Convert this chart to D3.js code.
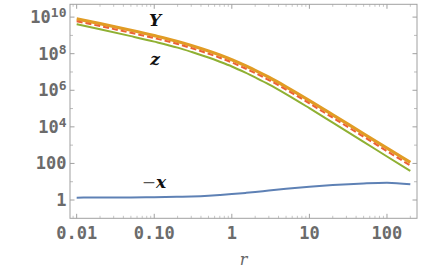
<!DOCTYPE html>
<html>
<head>
<meta charset="utf-8">
<script src="https://cdn.jsdelivr.net/npm/d3@7"></script>
<style>
  body { margin: 0; background: #fff; }
  svg { display: block; }
</style>
</head>
<body>
<svg width="422" height="273"></svg>
<script>
const width = 422, height = 273;
const margin = {left: 70, top: 4.3, right: 5, bottom: 54.7};

// data
const rValues = [0.01, 0.02, 0.05, 0.1, 0.2, 0.3, 0.5, 0.7, 1, 1.5, 2, 3, 5, 10, 20, 50, 100, 200];
const yValues = [7.94e9, 4.37e9, 1.91e9, 9.77e8, 4.68e8, 2.82e8, 1.41e8, 8.51e7, 4.68e7, 2.19e7, 1.23e7, 5.13e6, 1.55e6, 2.75e5, 4.57e4, 4.17e3, 692, 115];
const dashValues = [5.89e9, 3.24e9, 1.38e9, 7.08e8, 3.39e8, 2.04e8, 1.0e8, 6.03e7, 3.31e7, 1.55e7, 8.71e6, 3.63e6, 1.10e6, 1.91e5, 3.16e4, 2.88e3, 468, 77.6];
const zValues = [4.07e9, 2.19e9, 9.12e8, 4.57e8, 2.14e8, 1.26e8, 6.17e7, 3.63e7, 2.0e7, 9.12e6, 5.01e6, 2.09e6, 6.17e5, 1.05e5, 1.70e4, 1.51e3, 240, 38.9];
const negXValues = [1.35, 1.36, 1.38, 1.42, 1.5, 1.57, 1.72, 1.88, 2.1, 2.45, 2.75, 3.3, 4.1, 5.3, 6.6, 8.1, 8.8, 7.2];

const xTicks = [0.01, 0.1, 1, 10, 100];
const xTickLabels = ["0.01", "0.10", "1", "10", "100"];
const yTicks = [1, 1e2, 1e4, 1e6, 1e8, 1e10];
const yTickExp = [0, 2, 4, 6, 8, 10];

const svg = d3.select("svg");

const x = d3.scaleLog()
    .domain([Math.pow(10, -2.086), Math.pow(10, 2.387)])
    .range([margin.left, width - margin.right]);

const y = d3.scaleLog()
    .domain([0.1, Math.pow(10, 10.7)])
    .range([height - margin.bottom, margin.top]);

const x0 = margin.left, x1 = width - margin.right;
const y0 = height - margin.bottom, y1 = margin.top;

// minor ticks
let xMinor = [];
for (let e = -3; e <= 2; e++)
    for (let k = 2; k <= 9; k++) {
        let v = k * Math.pow(10, e);
        if (v > x.domain()[0] && v < x.domain()[1]) xMinor.push(v);
    }
let yMinor = d3.range(1, 11, 2).map(e => Math.pow(10, e));

const tickColor = "#a0a0a0";
const g = svg.append("g");

// x ticks bottom & top
g.append("g").selectAll("line").data(xTicks).join("line")
    .attr("x1", d => x(d)).attr("x2", d => x(d))
    .attr("y1", y0).attr("y2", y0 - 4.5)
    .attr("stroke", tickColor);
g.append("g").selectAll("line").data(xTicks).join("line")
    .attr("x1", d => x(d)).attr("x2", d => x(d))
    .attr("y1", y1).attr("y2", y1 + 4.5)
    .attr("stroke", tickColor);
g.append("g").selectAll("line").data(xMinor).join("line")
    .attr("x1", d => x(d)).attr("x2", d => x(d))
    .attr("y1", y0).attr("y2", y0 - 2.5)
    .attr("stroke", tickColor).attr("stroke-width", 0.6);
g.append("g").selectAll("line").data(xMinor).join("line")
    .attr("x1", d => x(d)).attr("x2", d => x(d))
    .attr("y1", y1).attr("y2", y1 + 2.5)
    .attr("stroke", tickColor).attr("stroke-width", 0.6);

// y ticks left & right
g.append("g").selectAll("line").data(yTicks).join("line")
    .attr("x1", x0).attr("x2", x0 + 4.5)
    .attr("y1", d => y(d)).attr("y2", d => y(d))
    .attr("stroke", tickColor);
g.append("g").selectAll("line").data(yTicks).join("line")
    .attr("x1", x1).attr("x2", x1 - 4.5)
    .attr("y1", d => y(d)).attr("y2", d => y(d))
    .attr("stroke", tickColor);
g.append("g").selectAll("line").data(yMinor).join("line")
    .attr("x1", x0).attr("x2", x0 + 3)
    .attr("y1", d => y(d)).attr("y2", d => y(d))
    .attr("stroke", tickColor).attr("stroke-width", 0.7);
g.append("g").selectAll("line").data(yMinor).join("line")
    .attr("x1", x1).attr("x2", x1 - 3)
    .attr("y1", d => y(d)).attr("y2", d => y(d))
    .attr("stroke", tickColor).attr("stroke-width", 0.7);

// frame
g.append("rect")
    .attr("x", x0).attr("y", y1)
    .attr("width", x1 - x0).attr("height", y0 - y1)
    .attr("fill", "none")
    .attr("stroke", tickColor)
    .attr("stroke-width", 1);

// tick labels
const labelFont = "'DejaVu Sans Mono', monospace";
g.append("g").selectAll("text").data(xTicks).join("text")
    .attr("x", d => x(d))
    .attr("y", y0 + 20.7)
    .attr("text-anchor", "middle")
    .style("font-family", labelFont)
    .style("font-size", "17px")
    .style("font-weight", "bold")
    .attr("fill", "#6b6b6b")
    .text((d, i) => xTickLabels[i]);

const yLab = g.append("g").selectAll("text").data(yTicks).join("text")
    .attr("x", x0 - 3.5)
    .attr("y", d => y(d) + 6)
    .attr("text-anchor", "end")
    .style("font-family", labelFont)
    .style("font-size", "17px")
    .style("font-weight", "bold")
    .attr("fill", "#6b6b6b");
yLab.each(function(d, i) {
    const t = d3.select(this);
    const e = yTickExp[i];
    if (e <= 2) {
        t.text(String(d));
    } else {
        t.append("tspan").text("10");
        t.append("tspan").attr("dy", -6).style("font-size", "13px").text(String(e));
    }
});

// curves
const line = vals => d3.line()
    .x((d, i) => x(rValues[i]))
    .y(d => y(d))
    .curve(d3.curveMonotoneX)(vals);

g.append("path").attr("d", line(negXValues))
    .attr("fill", "none").attr("stroke", "#5E81B5").attr("stroke-width", 2);
g.append("path").attr("d", line(yValues))
    .attr("fill", "none").attr("stroke", "#E19C24").attr("stroke-width", 3.2);
g.append("path").attr("d", line(zValues))
    .attr("fill", "none").attr("stroke", "#8FB032").attr("stroke-width", 2);
g.append("path").attr("d", line(dashValues))
    .attr("fill", "none").attr("stroke", "#EB6235").attr("stroke-width", 2)
    .attr("stroke-dasharray", "6,3");

// curve labels
const curveFont = "'DejaVu Serif', serif";
g.append("text").attr("x", 155).attr("y", 26)
    .attr("text-anchor", "middle")
    .style("font-family", curveFont).style("font-size", "17px")
    .style("font-weight", "bold").style("font-style", "italic")
    .attr("fill", "#111").text("Y");
g.append("text").attr("x", 155).attr("y", 65)
    .attr("text-anchor", "middle")
    .style("font-family", curveFont).style("font-size", "17px")
    .style("font-weight", "bold").style("font-style", "italic")
    .attr("fill", "#111").text("z");
const nx = g.append("text").attr("x", 154).attr("y", 188)
    .attr("text-anchor", "middle")
    .style("font-family", curveFont).style("font-size", "17px")
    .style("font-style", "italic")
    .attr("fill", "#111");
nx.append("tspan").style("font-weight", "normal").attr("fill", "#555").text("\u2212");
nx.append("tspan").style("font-weight", "bold").text("x");

// axis label
g.append("text")
    .attr("x", (x0 + x1) / 2)
    .attr("y", 265)
    .attr("text-anchor", "middle")
    .style("font-family", curveFont)
    .style("font-size", "16px")
    .style("font-style", "italic")
    .attr("fill", "#666")
    .text("r");
</script>
</body>
</html>
